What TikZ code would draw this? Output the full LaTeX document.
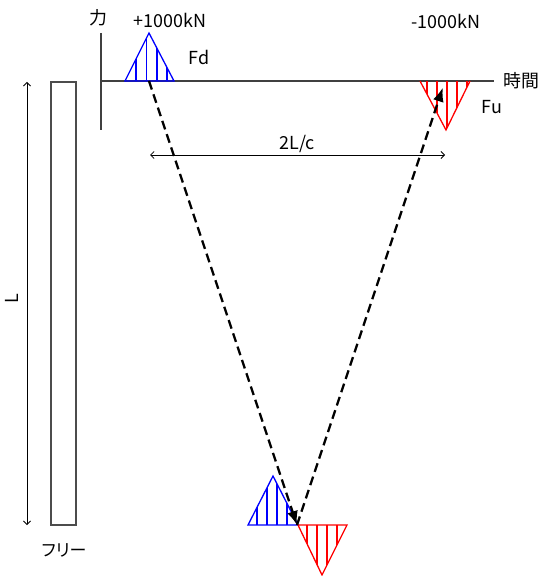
\documentclass[tikz,border=0pt]{standalone}
\usepackage{fontspec}
\setmainfont{Noto Sans CJK JP}
\newfontfamily\propjp[RawFeature=+palt]{Noto Sans CJK JP}
\usepackage{tikz}
\usetikzlibrary{arrows.meta, positioning, calc}

\begin{document}
\begin{tikzpicture}[
    x=1bp, y=-1bp,
    lbl/.style={font=\fontsize{18}{18}\selectfont, inner sep=0pt},
    axis/.style={line width=1.3bp, draw=black!75},
    wave/.style={line width=1.3bp},
    hatch/.style={line width=1.2bp},
    wavearr/.style={-{Latex[length=14bp, width=11bp]}, line width=2.3bp, dash pattern=on 9bp off 5bp},
    dim/.style={{Straight Barb[length=3.5bp, width=7bp]}-{Straight Barb[length=3.5bp, width=7bp]}, line width=0.8bp},
]
\useasboundingbox (0,0) rectangle (547,576);

% Axes
\coordinate (origin) at (101,81);
\coordinate (ftop) at (101,33);
\coordinate (fbot) at (101,130);
\coordinate (tend) at (494,81);
\draw[axis] (ftop) -- (fbot);
\draw[axis] (origin) -- (tend);
\node[lbl, anchor=west] (tlabel) at (503,81) {時間};
\node[lbl] (flabel) at (98,18) {力};

% Pile
\draw[line width=1.3bp, draw=black!70] (51,82) rectangle (76,525);
\node[lbl, font=\fontsize{17}{17}\selectfont\propjp] (free) at (64,550) {フリー};
\coordinate (ltop) at (27,82);
\coordinate (lbot) at (27,525);
\draw[dim] (ltop) -- (lbot);
\node[lbl, rotate=90] (llabel) at (12,299) {L};

% Downward wave Fd (top)
\begin{scope}
\clip (125,81) -- (149,33) -- (174,81) -- cycle;
\foreach \x in {136,146.5,157,167}
    \draw[hatch, blue] (\x,81) -- (\x,30);
\end{scope}
\draw[wave, blue] (125,81) -- (149,33) -- (174,81) -- cycle;
\node[lbl] (fdval) at (170,20) {+1000kN};
\node[lbl] (fd) at (199,57) {Fd};

% Upward wave Fu (top)
\begin{scope}
\clip (420,81) -- (446,130) -- (470,81) -- cycle;
\foreach \x in {427,437,447,457,467}
    \draw[hatch, red] (\x,81) -- (\x,132);
\end{scope}
\draw[wave, red] (420,81) -- (446,130) -- (470,81);
\node[lbl] (fuval) at (446,21) {-1000kN};
\node[lbl] (fu) at (492,107) {Fu};

% Waves at pile tip
\begin{scope}
\clip (248,525) -- (273,476) -- (298,525) -- cycle;
\foreach \x in {257,267,277,287}
    \draw[hatch, blue] (\x,525) -- (\x,474);
\end{scope}
\draw[wave, blue] (248,525) -- (273,476) -- (298,525) -- cycle;
\begin{scope}
\clip (298,525) -- (322,575) -- (347,525) -- cycle;
\foreach \x in {307,317,327,337}
    \draw[hatch, red] (\x,525) -- (\x,577);
\end{scope}
\draw[wave, red] (298,525) -- (322,575) -- (347,525) -- cycle;

% Travel path
\coordinate (fdbase) at (149,81);
\coordinate (tip) at (297,525);
\coordinate (fubase) at (445,81);
\draw[wavearr] (fdbase) -- (tip);
\draw[wavearr, shorten >=7bp] (tip) -- (fubase);

% Round trip time
\coordinate (dl) at (150,155);
\coordinate (dr) at (445,155);
\draw[dim] (dl) -- (dr);
\node[lbl] (trip) at (297,144) {2L/c};

\end{tikzpicture}
\end{document}
